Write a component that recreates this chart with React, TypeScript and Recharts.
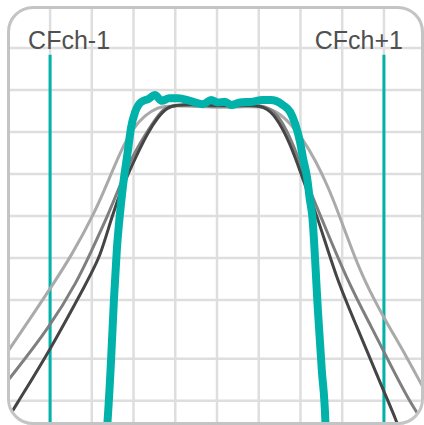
import { LineChart, Line, XAxis, YAxis, ReferenceLine } from "recharts";

type Pt = { f: number; db: number };

// frequency offset in channel-spacing units, attenuation in dB
const tealFilter: Pt[] = [
  { f: -2.66, db: -46.7 }, { f: -2.63, db: -44.9 }, { f: -2.55, db: -38.3 },
  { f: -2.47, db: -30.0 }, { f: -2.4, db: -24.0 }, { f: -2.32, db: -19.5 },
  { f: -2.25, db: -16.3 }, { f: -2.14, db: -12.4 }, { f: -2.06, db: -9.5 },
  { f: -1.96, db: -7.6 }, { f: -1.87, db: -6.7 }, { f: -1.77, db: -6.3 },
  { f: -1.65, db: -6.1 }, { f: -1.49, db: -5.6 }, { f: -1.32, db: -6.3 },
  { f: -1.15, db: -6.0 }, { f: -0.93, db: -6.0 }, { f: -0.65, db: -6.3 },
  { f: -0.34, db: -6.7 }, { f: -0.14, db: -6.2 }, { f: 0.02, db: -6.5 },
  { f: 0.19, db: -6.4 }, { f: 0.34, db: -6.8 }, { f: 0.55, db: -6.5 },
  { f: 0.86, db: -6.4 }, { f: 1.08, db: -6.2 }, { f: 1.29, db: -6.2 },
  { f: 1.41, db: -6.3 }, { f: 1.58, db: -6.8 }, { f: 1.75, db: -7.6 },
  { f: 1.87, db: -9.0 }, { f: 1.99, db: -11.2 }, { f: 2.06, db: -13.1 },
  { f: 2.16, db: -15.5 }, { f: 2.22, db: -17.9 }, { f: 2.28, db: -19.9 },
  { f: 2.42, db: -31.4 }, { f: 2.51, db: -38.3 }, { f: 2.6, db: -44.9 },
  { f: 2.61, db: -46.7 },
];

const lightCurve: Pt[] = [
  { f: -5.32, db: -38.3 }, { f: -4.96, db: -35.8 }, { f: -4.0, db: -28.7 },
  { f: -3.47, db: -24.6 }, { f: -2.92, db: -19.5 }, { f: -2.62, db: -16.0 },
  { f: -2.32, db: -12.4 }, { f: -2.01, db: -9.5 }, { f: -1.72, db: -8.0 },
  { f: -1.44, db: -7.1 }, { f: -1.2, db: -6.9 }, { f: -0.65, db: -6.9 },
  { f: 0, db: -7.1 }, { f: 0.67, db: -7.0 }, { f: 1.08, db: -7.0 },
  { f: 1.39, db: -7.4 }, { f: 1.75, db: -8.9 }, { f: 2.06, db: -10.9 },
  { f: 2.36, db: -13.4 }, { f: 2.64, db: -16.3 }, { f: 2.9, db: -19.5 },
  { f: 3.25, db: -24.3 }, { f: 3.55, db: -27.9 }, { f: 3.98, db: -32.0 },
  { f: 4.55, db: -36.8 }, { f: 4.96, db: -40.7 }, { f: 5.15, db: -42.1 },
];

const midCurve: Pt[] = [
  { f: -5.2, db: -40.8 }, { f: -4.96, db: -39.3 }, { f: -4.0, db: -33.2 },
  { f: -3.33, db: -27.6 }, { f: -3.05, db: -24.6 }, { f: -2.61, db: -19.9 },
  { f: -2.32, db: -16.3 }, { f: -2.01, db: -12.7 }, { f: -1.68, db: -10.0 },
  { f: -1.44, db: -8.2 }, { f: -1.25, db: -7.1 }, { f: -1.03, db: -6.8 },
  { f: -0.53, db: -6.8 }, { f: 0, db: -7.0 }, { f: 0.67, db: -6.9 },
  { f: 1.15, db: -6.8 }, { f: 1.46, db: -7.9 }, { f: 1.75, db: -10.6 },
  { f: 1.99, db: -13.6 }, { f: 2.2, db: -16.7 }, { f: 2.44, db: -19.5 },
  { f: 3.11, db: -27.6 }, { f: 3.74, db: -33.6 }, { f: 3.98, db: -36.0 },
  { f: 4.69, db: -42.9 }, { f: 5.05, db: -45.2 },
];

const darkCurve: Pt[] = [
  { f: -5.2, db: -45.7 }, { f: -4.84, db: -42.7 }, { f: -4.0, db: -36.0 },
  { f: -3.09, db: -27.6 }, { f: -2.8, db: -24.9 }, { f: -2.51, db: -19.9 },
  { f: -2.25, db: -16.3 }, { f: -1.92, db: -12.7 }, { f: -1.65, db: -10.0 },
  { f: -1.41, db: -8.2 }, { f: -1.2, db: -7.1 }, { f: -0.98, db: -6.8 },
  { f: -0.53, db: -6.7 }, { f: 0, db: -6.9 }, { f: 0.67, db: -6.8 },
  { f: 1.15, db: -6.9 }, { f: 1.41, db: -8.2 }, { f: 1.68, db: -10.6 },
  { f: 1.92, db: -13.6 }, { f: 2.13, db: -16.7 }, { f: 2.37, db: -19.5 },
  { f: 2.87, db: -27.6 }, { f: 3.31, db: -32.7 }, { f: 3.98, db: -40.7 },
  { f: 4.31, db: -44.5 }, { f: 4.38, db: -45.7 },
];

const gridFreqs = [-4, -3, -2, -1, 0, 1, 2, 3, 4];
const gridDb = [0, -5, -10, -15, -20, -25, -30, -37, -42];

const channels = [
  { name: "CFch-1", f: -4 },
  { name: "CFch+1", f: 4 },
];

const TEAL = "#00b2a9";

export default function App() {
  return (
    <div style={{ position: "absolute", left: 0, top: 0, width: 424, height: 425, background: "#fff" }}>
      <div
        style={{
          position: "absolute",
          left: 7,
          top: 6,
          width: 417,
          height: 419,
          boxSizing: "border-box",
          border: "3px solid #c4c4c4",
          borderRadius: 26,
          overflow: "hidden",
        }}
      >
        <div style={{ position: "absolute", left: -10, top: -9 }}>
          <LineChart width={424} height={425} margin={{ top: 0, right: 0, bottom: 0, left: 0 }}>
            <XAxis type="number" dataKey="f" domain={[-5.2, 4.96]} allowDataOverflow hide />
            <YAxis type="number" dataKey="db" domain={[-44.9, 5.71]} allowDataOverflow hide />
            {gridFreqs.map((f) => (
              <ReferenceLine key={"v" + f} x={f} stroke="#dedede" strokeWidth={2.5} />
            ))}
            {gridDb.map((d) => (
              <ReferenceLine key={"h" + d} y={d} stroke="#dedede" strokeWidth={2.5} />
            ))}
            {channels.map((c) => (
              <ReferenceLine
                key={c.name}
                segment={[
                  { x: c.f, y: -0.8 },
                  { x: c.f, y: -44.9 },
                ]}
                ifOverflow="visible"
                stroke={TEAL}
                strokeWidth={3}
                label={(props: any) => {
                  const vx = props.viewBox?.x ?? 0;
                  const left = c.f < 0;
                  return (
                    <text
                      x={left ? vx - 22 : vx + 19}
                      y={49}
                      textAnchor={left ? "start" : "end"}
                      fill="#505050"
                      fontSize={25}
                      fontFamily="'Liberation Sans', Arial, sans-serif"
                    >
                      {c.name}
                    </text>
                  );
                }}
              />
            ))}
            <Line data={lightCurve} dataKey="db" type="basis" stroke="#aaaaaa" strokeWidth={3} dot={false} isAnimationActive={false} />
            <Line data={midCurve} dataKey="db" type="basis" stroke="#7f7f7f" strokeWidth={3} dot={false} isAnimationActive={false} />
            <Line data={darkCurve} dataKey="db" type="basis" stroke="#454545" strokeWidth={3} dot={false} isAnimationActive={false} />
            <Line
              data={tealFilter}
              dataKey="db"
              type="monotone"
              stroke={TEAL}
              strokeWidth={8}
              strokeLinejoin="round"
              dot={false}
              isAnimationActive={false}
            />
          </LineChart>
        </div>
      </div>
    </div>
  );
}
